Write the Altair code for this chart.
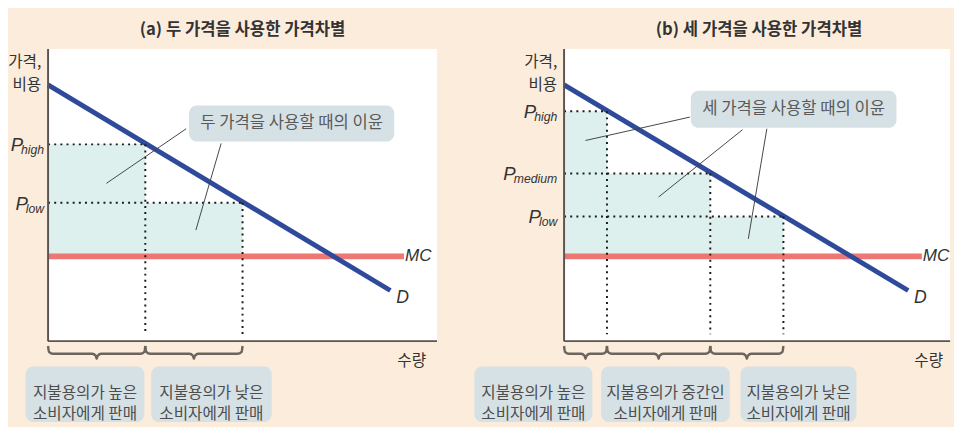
import altair as alt
import pandas as pd

# ---------------- data ----------------
Q_MAX = 40.0
P_MAX = 30.0

# Panel (a): two prices
a_title = "(a) 두 가격을 사용한 가격차별"
a_demand_q = [0.0, 35.2]
a_demand_p = [26.3, 5.2]
a_mc = 8.7
a_mc_q_end = 36.6
a_qty = [10.0, 20.0]
a_price = [20.2, 14.2]
a_price_sub = ["high", "low"]
a_callout = "두 가격을 사용할 때의 이윤"
a_groups = [["지불용의가 높은", "소비자에게 판매"],
            ["지불용의가 낮은", "소비자에게 판매"]]

# Panel (b): three prices
b_title = "(b) 세 가격을 사용한 가격차별"
b_demand_q = [0.0, 35.3]
b_demand_p = [26.3, 5.2]
b_mc = 8.7
b_mc_q_end = 36.7
b_qty = [4.4, 15.0, 22.5]
b_price = [23.6, 17.2, 12.8]
b_price_sub = ["high", "medium", "low"]
b_callout = "세 가격을 사용할 때의 이윤"
b_groups = [["지불용의가 높은", "소비자에게 판매"],
            ["지불용의가 중간인", "소비자에게 판매"],
            ["지불용의가 낮은", "소비자에게 판매"]]

y_label = ["가격,", "비용"]
x_label = "수량"

# ---------------- layout / style ----------------
PLOT_H = 299
a_layout = dict(width=398, margins=(38, 37, 36, 83), plot_q_end=Q_MAX,
                callout_box=(14.5, 35.6, 20.5, 24.2),
                leaders=[(14.2, 21.8, 6.0, 16.2), (17.8, 20.3, 15.2, 11.4)],
                label_boxes=[(-2.3, 9.9), (10.6, 23.0)],
                plabel_gap=4)
b_layout = dict(width=399, margins=(78, -4, 36, 83), plot_q_end=39.6,
                callout_box=(13.0, 34.1, 21.9, 25.7),
                leaders=[(12.9, 23.0, 2.2, 20.6), (18.3, 21.7, 9.7, 14.8),
                         (20.8, 21.8, 18.9, 10.5)],
                label_boxes=[(-9.2, 2.9), (3.8, 17.0), (18.1, 30.0)],
                plabel_gap=7)
LABEL_BOX_P = (-2.6, -8.3)
LABEL_LINE_P = (-5.3, -7.45)
BRACE_P = (-0.5, -1.3, -1.8)   # top, middle, tip
SUB_W = {"high": 23.6, "low": 18.7, "medium": 44.5}

BEIGE = "#fcecdb"
TEAL = "#ddf0ee"
BOX = "#d6e1e5"
BLUE = "#2f4a9a"
RED = "#ec7773"
AXIS = "#5a5552"
BRACE = "#6c645e"
TXT = "#4d4d4d"
KFONT = "Noto Sans CJK KR"
LFONT = "Liberation Sans"


def sx():
    return alt.Scale(domain=[0, Q_MAX], nice=False, zero=False)


def sy():
    return alt.Scale(domain=[0, P_MAX], nice=False, zero=False)


def enc(two=False):
    e = dict(x=alt.X("q", type="quantitative", scale=sx(), axis=None),
             y=alt.Y("p", type="quantitative", scale=sy(), axis=None))
    if two:
        e["x2"] = alt.X2("q2")
        e["y2"] = alt.Y2("p2")
    return e


def rects(rows, **kw):
    df = pd.DataFrame(rows, columns=["q", "q2", "p", "p2"])
    return alt.Chart(df).mark_rect(**kw).encode(**enc(True))


def segs(rows, **kw):
    df = pd.DataFrame(rows, columns=["q", "p", "q2", "p2"])
    return alt.Chart(df).mark_rule(**kw).encode(**enc(True))


def text(q, p, t, **kw):
    df = pd.DataFrame({"q": [q], "p": [p], "t": [t]})
    return alt.Chart(df).mark_text(**kw).encode(**enc(), text="t:N")


def brace_rows(q0, q1, bid):
    top, mid, tip = BRACE_P
    qm = (q0 + q1) / 2
    pts = [(q0, top), (q0 + 0.1, mid + 0.2), (q0 + 0.5, mid),
           (qm - 0.45, mid), (qm - 0.1, mid - 0.2), (qm, tip),
           (qm + 0.1, mid - 0.2), (qm + 0.45, mid),
           (q1 - 0.5, mid), (q1 - 0.1, mid + 0.2), (q1, top)]
    return [dict(q=a, p=b, bid=bid, o=i) for i, (a, b) in enumerate(pts)]


def panel(title, dq, dp, mc, mc_end, qty, price, subs, callout, groups, L):
    W = L["width"]
    pxq = W / Q_MAX
    pxp = PLOT_H / P_MAX
    ml, mr, mt, mb = L["margins"]
    layers = []
    # background frame (defines panel bounds)
    layers.append(rects([(-ml / pxq, (W + mr) / pxq,
                          P_MAX + mt / pxp, -mb / pxp)], color=BEIGE))
    # white plot area
    layers.append(rects([(0, L["plot_q_end"], 0, P_MAX)], color="white"))
    # profit areas
    qs = [0.0] + qty
    layers.append(rects([(qs[i], qs[i + 1], mc, price[i])
                         for i in range(len(price))], color=TEAL))
    # MC and demand
    layers.append(segs([(0, mc, mc_end, mc)], color=RED, strokeWidth=6))
    layers.append(segs([(dq[0], dp[0], dq[1], dp[1])], color=BLUE,
                       strokeWidth=5))
    # dotted guides
    dots = []
    for q, p in zip(qty, price):
        dots.append((0, p, q, p))
        dots.append((q, p, q, 0.7))
    layers.append(segs(dots, color="#1a1a1a", strokeWidth=2,
                       strokeDash=[2, 4.3]))
    # axes
    layers.append(segs([(0, 0, 0, P_MAX), (0, 0, L["plot_q_end"], 0)],
                       color=AXIS, strokeWidth=2))
    # leader lines + callout
    layers.append(segs(L["leaders"], color="#444444", strokeWidth=1))
    cb = L["callout_box"]
    layers.append(rects([cb], color=BOX, cornerRadius=8))
    layers.append(text((cb[0] + cb[1]) / 2, (cb[2] + cb[3]) / 2, callout,
                       font=KFONT, fontSize=17, color="#5a5a5a",
                       baseline="middle", align="center"))
    # braces
    br = []
    for i in range(len(qs) - 1):
        br += brace_rows(qs[i], qs[i + 1], i)
    layers.append(alt.Chart(pd.DataFrame(br)).mark_line(
        color=BRACE, strokeWidth=2.5, interpolate="monotone",
        strokeJoin="round").encode(**enc(), detail="bid:N",
                                   order="o:Q"))
    # group label boxes
    lp0, lp1 = LABEL_BOX_P
    layers.append(rects([(a, b, lp0, lp1) for a, b in L["label_boxes"]],
                        color=BOX, cornerRadius=8))
    for (a, b), lines in zip(L["label_boxes"], groups):
        for k, line in enumerate(lines):
            layers.append(text((a + b) / 2, LABEL_LINE_P[k], line,
                               font=KFONT, fontSize=16, color=TXT,
                               baseline="middle", align="center"))
    # price labels
    g = L["plabel_gap"]
    for p, s in zip(price, subs):
        layers.append(text(0, p, s, font=LFONT, fontSize=12.5,
                           fontStyle="italic", color="#333333",
                           align="right", baseline="alphabetic",
                           dx=-g, dy=10))
        layers.append(text(0, p, "P", font=LFONT, fontSize=19,
                           fontStyle="italic", color="#333333",
                           align="right", baseline="alphabetic",
                           dx=-g - SUB_W[s] + 2, dy=7))
    # axis labels
    layers.append(text(0, 28.6, y_label[0], font=KFONT, fontSize=16,
                       color="#333333", align="right", baseline="middle",
                       dx=-7))
    layers.append(text(0, 26.3, y_label[1], font=KFONT, fontSize=16,
                       color="#333333", align="right", baseline="middle",
                       dx=-7))
    layers.append(text(37.4, -2.1, x_label, font=KFONT, fontSize=16,
                       color="#333333", align="center", baseline="middle"))
    layers.append(text(mc_end, mc, "MC", font=LFONT, fontSize=17.5,
                       fontStyle="italic", color="#333333", align="left",
                       baseline="middle", dx=1))
    layers.append(text(dq[1], dp[1], "D", font=LFONT, fontSize=18,
                       fontStyle="italic", color="#333333", align="left",
                       baseline="middle", dx=6, dy=8))
    # title
    layers.append(text(Q_MAX / 2, P_MAX, title, font=KFONT, fontSize=17,
                       fontWeight="bold", color="#333333", align="center",
                       baseline="middle", dy=-19))
    return alt.layer(*layers).properties(width=W, height=PLOT_H)


pa = panel(a_title, a_demand_q, a_demand_p, a_mc, a_mc_q_end, a_qty,
           a_price, a_price_sub, a_callout, a_groups, a_layout)
pb = panel(b_title, b_demand_q, b_demand_p, b_mc, b_mc_q_end, b_qty,
           b_price, b_price_sub, b_callout, b_groups, b_layout)

chart = alt.hconcat(pa, pb, spacing=0).properties(
    padding=0, background=BEIGE
).configure_view(strokeWidth=0)

chart.save("out.html", embed_options={"renderer": "svg", "actions": False})
